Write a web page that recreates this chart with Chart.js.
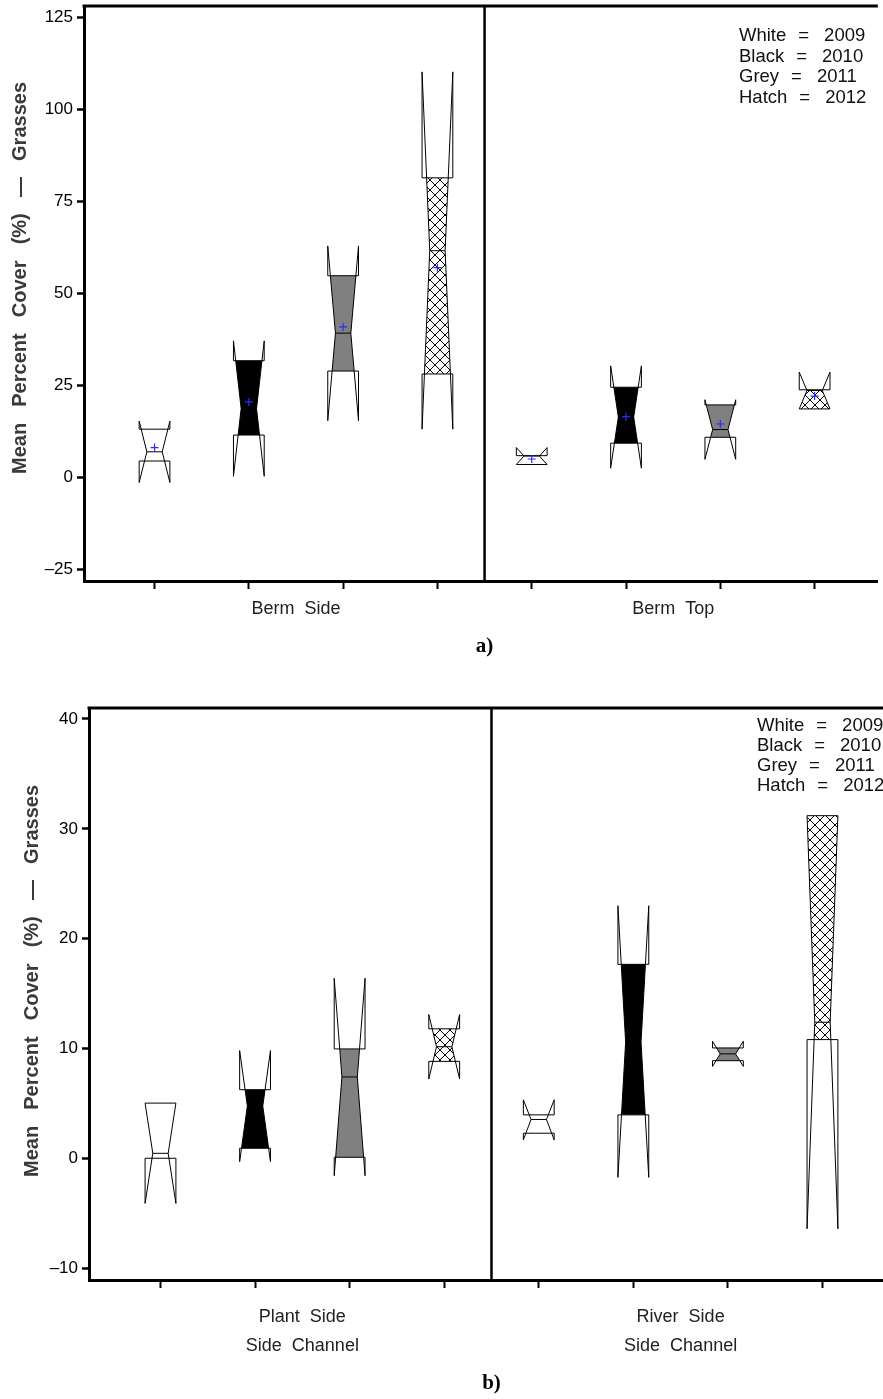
<!DOCTYPE html>
<html>
<head>
<meta charset="utf-8">
<script src="https://cdn.jsdelivr.net/npm/chart.js@4.4.1/dist/chart.umd.min.js"></script>
<style>
  html, body { margin: 0; padding: 0; background: #fff; overflow: hidden; }
  .panel { position: absolute; left: 0; width: 883px; }
  #panelA { top: 0; height: 700px; }
  #panelB { top: 700px; height: 699px; }
</style>
</head>
<body>
<div class="panel" id="panelA"><canvas id="chartA"></canvas></div>
<div class="panel" id="panelB"><canvas id="chartB"></canvas></div>
<script>
// shared
const legendNames = ["White", "Black", "Grey", "Hatch"];
const years = ["2009", "2010", "2011", "2012"];
const boxPositions = [1, 2, 3, 4, 5, 6, 7, 8];
const xTicks = [1, 2, 3, 4, 5, 6, 7, 8];
const yTitleWords = ["Mean", "Percent", "Cover", "(%)", "\u2014", "Grasses"];

// a) Berm Side / Berm Top
const groupsA = [["Berm  Side"], ["Berm  Top"]];
const yTicksA = [125, 100, 75, 50, 25, 0, -25];
const notchHighA = [15.2, 37.0, 62.8, 110.1, 8.0, 30.2, 21.0, 28.5];
const q3A = [13.0, 31.6, 54.7, 81.3, 5.8, 24.4, 19.6, 23.7];
const medianA = [6.85, 18.6, 39.1, 61.5, 5.7, 16.3, 12.9, 23.5];
const q1A = [4.35, 11.4, 28.8, 28.0, 3.4, 9.2, 10.8, 18.5];
const notchLowA = [-1.5, 0.2, 15.3, 13.0, 3.4, 2.4, 4.8, 18.5];
const meanA = [8.0, 20.4, 40.8, 56.9, 4.9, 16.4, 14.4, 22.0];

// b) Plant Side / River Side side channel
const groupsB = [["Plant  Side", "Side  Channel"], ["River  Side", "Side  Channel"]];
const yTicksB = [40, 30, 20, 10, 0, -10];
const notchHighB = [5.04, 9.82, 16.4, 13.1, 5.34, 23.0, 10.67, 31.2];
const q3B = [5.04, 6.26, 9.97, 11.8, 3.97, 17.67, 10.06, 31.2];
const medianB = [0.47, 4.77, 7.42, 10.17, 3.55, 10.6, 9.52, 12.4];
const q1B = [0.02, 0.93, 0.11, 8.84, 2.3, 3.97, 8.9, 10.82];
const notchLowB = [-4.09, -0.29, -1.57, 7.23, 1.69, -1.72, 8.38, -6.4];

const FONT = "'Liberation Sans', Arial, Helvetica, sans-serif";
const boxHalf = 0.163;     // box half width in x units
const notchRatio = 0.5;    // notch waist relative to box width

function hatchPattern(ctx) {
	const c = document.createElement("canvas");
	c.width = 10; c.height = 10;
	const g = c.getContext("2d");
	g.strokeStyle = "#000";
	g.lineWidth = 1;
	g.beginPath();
	g.moveTo(-1, -1); g.lineTo(11, 11);
	g.moveTo(11, -1); g.lineTo(-1, 11);
	g.stroke();
	return ctx.createPattern(c, "repeat");
}

function boxFill(ctx, yearIdx) {
	if (yearIdx === 1) return "#000";
	if (yearIdx === 2) return "#808080";
	if (yearIdx === 3) return hatchPattern(ctx);
	return "#fff";
}

function drawBox(ctx, xs, ys, b, i) {
	const cx = xs.getPixelForValue(boxPositions[i]);
	const w = xs.getPixelForValue(boxPositions[i] + boxHalf) - cx;
	const wn = w * notchRatio;
	const nh = ys.getPixelForValue(b.nh[i]);
	const q3 = ys.getPixelForValue(b.q3[i]);
	const md = ys.getPixelForValue(b.med[i]);
	const q1 = ys.getPixelForValue(b.q1[i]);
	const nl = ys.getPixelForValue(b.nl[i]);

	const pts = [];
	if (q3 < nh) pts.push([q3, w]);
	pts.push([nh, w], [md, wn], [nl, w]);
	if (q1 > nl) pts.push([q1, w]);

	// fill between the hinges
	ctx.save();
	ctx.beginPath();
	ctx.rect(cx - w - 1, q3, 2 * w + 2, q1 - q3);
	ctx.clip();
	ctx.beginPath();
	pts.forEach((p, k) => k ? ctx.lineTo(cx - p[1], p[0]) : ctx.moveTo(cx - p[1], p[0]));
	pts.slice().reverse().forEach(p => ctx.lineTo(cx + p[1], p[0]));
	ctx.closePath();
	ctx.fillStyle = boxFill(ctx, i % 4);
	ctx.fill();
	ctx.restore();

	ctx.save();
	ctx.strokeStyle = "#000";
	ctx.lineWidth = 1;
	ctx.beginPath();
	[-1, 1].forEach(s => {
		pts.forEach((p, k) => k ? ctx.lineTo(cx + s * p[1], p[0]) : ctx.moveTo(cx + s * p[1], p[0]));
		if (nh < q3) { ctx.moveTo(cx + s * w, nh); ctx.lineTo(cx + s * w, q3); }
		if (nl > q1) { ctx.moveTo(cx + s * w, q1); ctx.lineTo(cx + s * w, nl); }
	});
	ctx.moveTo(cx - w, q3); ctx.lineTo(cx + w, q3);
	ctx.moveTo(cx - w, q1); ctx.lineTo(cx + w, q1);
	ctx.moveTo(cx - wn, md); ctx.lineTo(cx + wn, md);
	ctx.stroke();
	ctx.restore();
}

// words laid out one after another with fixed gaps
function drawWords(ctx, words, x, y, gaps) {
	let pos = x;
	words.forEach((t, k) => {
		ctx.fillText(t, pos, y);
		pos += ctx.measureText(t).width + (gaps[k] || 0);
	});
}

function panelPlugin(cfg) {
	return {
		id: "panel" + cfg.letter,
		beforeDatasetsDraw(chart) {
			const ctx = chart.ctx;
			const xs = chart.scales.x, ys = chart.scales.y;
			for (let i = 0; i < boxPositions.length; i++) drawBox(ctx, xs, ys, cfg.boxes, i);
		},
		afterDraw(chart) {
			const ctx = chart.ctx;
			const a = chart.chartArea;
			const xs = chart.scales.x;
			ctx.save();
			ctx.strokeStyle = "#000";
			// top frame line
			ctx.lineWidth = 3;
			ctx.beginPath();
			ctx.moveTo(a.left - 1.5, a.top);
			ctx.lineTo(a.right, a.top);
			ctx.stroke();
			// divider between the two groups
			const dx = xs.getPixelForValue(4.5);
			ctx.lineWidth = 2.5;
			ctx.beginPath();
			ctx.moveTo(dx, a.top);
			ctx.lineTo(dx, a.bottom);
			ctx.stroke();

			// year key
			ctx.fillStyle = "#111";
			ctx.font = "18.5px " + FONT;
			ctx.textAlign = "left";
			ctx.textBaseline = "middle";
			legendNames.forEach((t, k) =>
				drawWords(ctx, [t, "=", years[k]], cfg.legendX, cfg.legendY + k * cfg.legendGap, [12, 15]));

			// group labels
			ctx.font = "18px " + FONT;
			ctx.fillStyle = "#222";
			ctx.textAlign = "center";
			cfg.groups.forEach((lines, g) => {
				const gx = xs.getPixelForValue(g === 0 ? 2.5 : 6.5);
				lines.forEach((t, j) => ctx.fillText(t, gx, cfg.labelY + j * 29));
			});

			// panel letter
			ctx.fillStyle = "#000";
			ctx.font = "bold 21px 'Liberation Serif', 'Times New Roman', serif";
			ctx.fillText(cfg.letter + ")", dx, cfg.letterY);

			// y title, stretched to the length it has in the figure
			ctx.translate(cfg.titleX, cfg.titleY);
			ctx.rotate(-Math.PI / 2);
			ctx.fillStyle = "#3a3a3a";
			ctx.font = "bold 20px " + FONT;
			ctx.textAlign = "left";
			const wsum = yTitleWords.reduce((s, t) => s + ctx.measureText(t).width, 0);
			const gap = (cfg.titleLen - wsum) / (yTitleWords.length - 1);
			drawWords(ctx, yTitleWords, -cfg.titleLen / 2, 0, yTitleWords.map(() => gap));
			ctx.restore();
		}
	};
}

function makeChart(id, cfg) {
	const datasets = cfg.means ? [{
		data: cfg.means.map((m, i) => ({ x: boxPositions[i], y: m })),
		pointStyle: "cross",
		pointRadius: 4,
		pointHoverRadius: 4,
		borderColor: "#2b2bff",
		backgroundColor: "#2b2bff",
		borderWidth: 1.2
	}] : [];
	return new Chart(document.getElementById(id), {
		type: "scatter",
		data: { datasets: datasets },
		options: {
			responsive: true,
			maintainAspectRatio: false,
			animation: false,
			events: [],
			layout: { padding: { top: cfg.top, left: 0, right: 0, bottom: 0 } },
			plugins: { legend: { display: false }, tooltip: { enabled: false } },
			scales: {
				x: {
					type: "linear",
					min: cfg.xMin,
					max: cfg.xMax,
					afterBuildTicks: (s) => { s.ticks = xTicks.map(v => ({ value: v })); },
					afterFit: (s) => { s.height = cfg.xHeight; s.paddingLeft = 0; s.paddingRight = 0; },
					ticks: { callback: () => "", padding: 0 },
					grid: { drawOnChartArea: false, drawTicks: true, tickLength: 8, tickWidth: 2, tickColor: "#000" },
					border: { display: true, width: 3, color: "#000" }
				},
				y: {
					type: "linear",
					min: cfg.yMin,
					max: cfg.yMax,
					afterBuildTicks: (s) => { s.ticks = cfg.yTicks.map(v => ({ value: v })); },
					afterFit: (s) => { s.width = cfg.yWidth; s.paddingTop = 0; s.paddingBottom = 0; },
					ticks: {
						callback: (v) => (v < 0 ? "\u2013" + Math.abs(v) : String(v)),
						font: { family: FONT, size: 17 },
						color: "#000",
						padding: 4
					},
					grid: { drawOnChartArea: false, drawTicks: true, tickLength: 7, tickWidth: 2.5, tickColor: "#000" },
					border: { display: true, width: 3, color: "#000" }
				}
			}
		},
		plugins: [panelPlugin(cfg)]
	});
}

makeChart("chartA", {
	letter: "a",
	top: 6, xHeight: 119, yWidth: 84,
	xMin: 0.252, xMax: 8.67,
	yMin: -28.26, yMax: 128.0, yTicks: yTicksA,
	boxes: { nh: notchHighA, q3: q3A, med: medianA, q1: q1A, nl: notchLowA },
	means: meanA,
	groups: groupsA, labelY: 609,
	legendX: 739, legendY: 36, legendGap: 20.5,
	letterY: 647,
	titleX: 20, titleY: 278, titleLen: 392
});

makeChart("chartB", {
	letter: "b",
	top: 8, xHeight: 119, yWidth: 89,
	xMin: 0.244, xMax: 8.64,
	yMin: -11.06, yMax: 41.0, yTicks: yTicksB,
	boxes: { nh: notchHighB, q3: q3B, med: medianB, q1: q1B, nl: notchLowB },
	means: null,
	groups: groupsB, labelY: 617,
	legendX: 757, legendY: 26, legendGap: 20,
	letterY: 684,
	titleX: 32, titleY: 281, titleLen: 392
});
</script>
</body>
</html>
